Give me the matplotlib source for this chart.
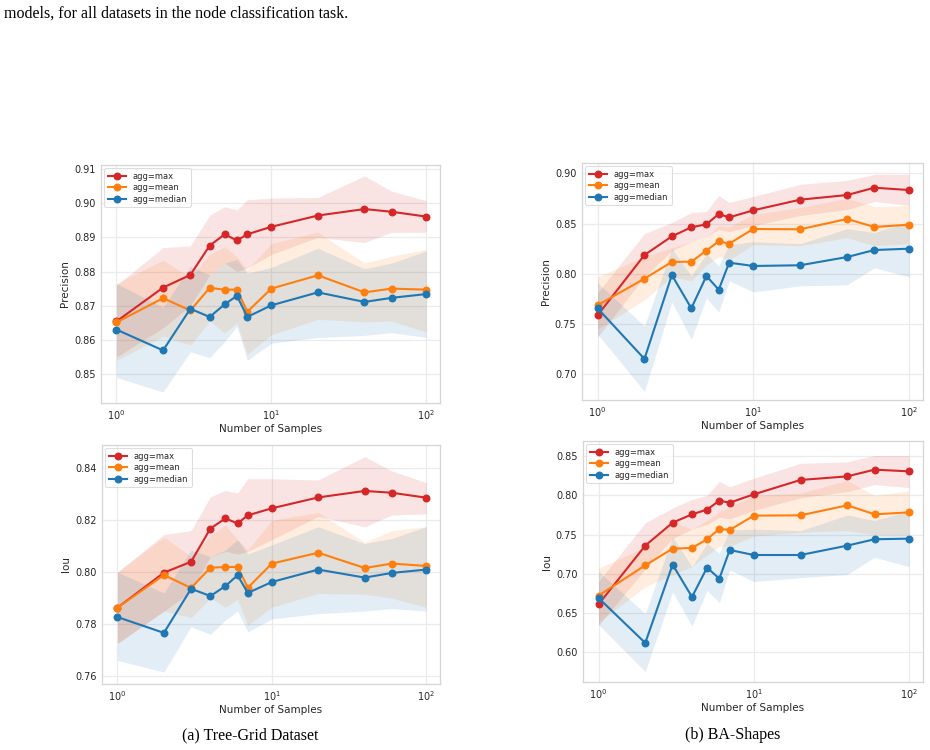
import numpy as np
import matplotlib
matplotlib.use("Agg")
import matplotlib.pyplot as plt

# number of sampled explanations (x axis, log scale)
n_samples = [1, 2, 3, 4, 5, 6, 7, 10, 20, 40, 60, 100]
agg_labels = ["agg=max", "agg=mean", "agg=median"]

# Tree-Grid, precision
tg_prec_max = [0.8654, 0.8753, 0.8790, 0.8876, 0.8909, 0.8891, 0.8909, 0.8931, 0.8964, 0.8983, 0.8975, 0.8961]
tg_prec_max_lo = [0.8550, 0.8635, 0.8700, 0.8790, 0.8825, 0.8800, 0.8810, 0.8850, 0.8900, 0.8885, 0.8915, 0.8915]
tg_prec_max_hi = [0.8760, 0.8870, 0.8875, 0.8965, 0.8990, 0.8980, 0.9010, 0.9015, 0.9017, 0.9080, 0.9035, 0.9008]
tg_prec_mean = [0.8651, 0.8722, 0.8686, 0.8752, 0.8747, 0.8747, 0.8682, 0.8750, 0.8789, 0.8739, 0.8750, 0.8747]
tg_prec_mean_lo = [0.8540, 0.8610, 0.8585, 0.8655, 0.8620, 0.8650, 0.8558, 0.8615, 0.8660, 0.8653, 0.8655, 0.8623]
tg_prec_mean_hi = [0.8765, 0.8833, 0.8783, 0.8850, 0.8873, 0.8843, 0.8805, 0.8882, 0.8915, 0.8825, 0.8845, 0.8865]
tg_prec_median = [0.8630, 0.8569, 0.8691, 0.8667, 0.8704, 0.8729, 0.8667, 0.8701, 0.8739, 0.8711, 0.8723, 0.8734]
tg_prec_median_lo = [0.8490, 0.8447, 0.8565, 0.8548, 0.8595, 0.8640, 0.8540, 0.8590, 0.8607, 0.8613, 0.8621, 0.8607]
tg_prec_median_hi = [0.8765, 0.8695, 0.8815, 0.8790, 0.8825, 0.8835, 0.8795, 0.8812, 0.8868, 0.8808, 0.8825, 0.8860]

# BA-Shapes, precision
ba_prec_max = [0.7587, 0.8187, 0.8373, 0.8463, 0.8493, 0.8595, 0.8562, 0.8632, 0.8738, 0.8784, 0.8857, 0.8834]
ba_prec_max_lo = [0.737, 0.797, 0.823, 0.832, 0.837, 0.844, 0.842, 0.848, 0.858, 0.864, 0.872, 0.868]
ba_prec_max_hi = [0.781, 0.840, 0.851, 0.861, 0.862, 0.878, 0.871, 0.877, 0.889, 0.893, 0.899, 0.899]
ba_prec_mean = [0.7687, 0.7952, 0.8118, 0.8121, 0.8231, 0.8324, 0.8300, 0.8446, 0.8443, 0.8546, 0.8466, 0.8489]
ba_prec_mean_lo = [0.745, 0.774, 0.797, 0.793, 0.809, 0.817, 0.814, 0.829, 0.828, 0.836, 0.828, 0.830]
ba_prec_mean_hi = [0.797, 0.817, 0.826, 0.832, 0.837, 0.848, 0.847, 0.859, 0.866, 0.875, 0.867, 0.868]
ba_prec_median = [0.7657, 0.7153, 0.7988, 0.7657, 0.7978, 0.7842, 0.8111, 0.8078, 0.8085, 0.8167, 0.8237, 0.8250]
ba_prec_median_lo = [0.740, 0.683, 0.772, 0.735, 0.776, 0.762, 0.793, 0.782, 0.788, 0.789, 0.806, 0.797]
ba_prec_median_hi = [0.791, 0.748, 0.825, 0.798, 0.820, 0.808, 0.829, 0.832, 0.830, 0.845, 0.841, 0.852]

# Tree-Grid, IoU
tg_iou_max = [0.7863, 0.7998, 0.8040, 0.8168, 0.8207, 0.8188, 0.8219, 0.8246, 0.8288, 0.8313, 0.8306, 0.8287]
tg_iou_max_lo = [0.7725, 0.7850, 0.7925, 0.8060, 0.8080, 0.8070, 0.8080, 0.8125, 0.8215, 0.8175, 0.8220, 0.8225]
tg_iou_max_hi = [0.8000, 0.8145, 0.8160, 0.8290, 0.8315, 0.8305, 0.8360, 0.8360, 0.8355, 0.8445, 0.8390, 0.8345]
tg_iou_mean = [0.7863, 0.7989, 0.7939, 0.8017, 0.8020, 0.8020, 0.7940, 0.8033, 0.8075, 0.8016, 0.8033, 0.8024]
tg_iou_mean_lo = [0.7725, 0.7850, 0.7825, 0.7900, 0.7865, 0.7895, 0.7795, 0.7865, 0.7918, 0.7915, 0.7900, 0.7865]
tg_iou_mean_hi = [0.8000, 0.8135, 0.8060, 0.8140, 0.8180, 0.8125, 0.8085, 0.8200, 0.8230, 0.8115, 0.8160, 0.8175]
tg_iou_median = [0.7827, 0.7766, 0.7936, 0.7908, 0.7946, 0.7988, 0.7920, 0.7962, 0.8010, 0.7979, 0.7997, 0.8010]
tg_iou_median_lo = [0.7660, 0.7615, 0.7790, 0.7760, 0.7815, 0.7850, 0.7770, 0.7820, 0.7840, 0.7850, 0.7860, 0.7850]
tg_iou_median_hi = [0.8000, 0.7920, 0.8085, 0.8060, 0.8085, 0.8125, 0.8070, 0.8105, 0.8175, 0.8110, 0.8130, 0.8175]

# BA-Shapes, IoU
ba_iou_max = [0.6609, 0.7359, 0.7652, 0.7759, 0.7819, 0.7934, 0.7908, 0.8014, 0.8198, 0.8244, 0.8330, 0.8308]
ba_iou_max_lo = [0.634, 0.706, 0.745, 0.757, 0.763, 0.772, 0.770, 0.781, 0.797, 0.805, 0.814, 0.810]
ba_iou_max_hi = [0.690, 0.765, 0.784, 0.795, 0.800, 0.818, 0.811, 0.822, 0.841, 0.843, 0.851, 0.851]
ba_iou_mean = [0.6720, 0.7107, 0.7320, 0.7329, 0.7440, 0.7572, 0.7559, 0.7742, 0.7746, 0.7874, 0.7759, 0.7784]
ba_iou_mean_lo = [0.638, 0.683, 0.699, 0.709, 0.724, 0.735, 0.735, 0.748, 0.753, 0.755, 0.750, 0.750]
ba_iou_mean_hi = [0.707, 0.734, 0.766, 0.757, 0.768, 0.779, 0.785, 0.800, 0.803, 0.819, 0.800, 0.806]
ba_iou_median = [0.6690, 0.6115, 0.7116, 0.6703, 0.7078, 0.6937, 0.7303, 0.7239, 0.7239, 0.7359, 0.7440, 0.7448]
ba_iou_median_lo = [0.635, 0.575, 0.677, 0.633, 0.679, 0.663, 0.705, 0.690, 0.695, 0.699, 0.721, 0.709]
ba_iou_median_hi = [0.703, 0.649, 0.747, 0.709, 0.739, 0.726, 0.756, 0.757, 0.755, 0.775, 0.768, 0.780]

colors = ["#d62728", "#ff7f0e", "#1f77b4"]

plt.rcParams["font.family"] = ["DejaVu Sans"]
plt.rcParams["axes.edgecolor"] = "#d5d5d5"
plt.rcParams["axes.linewidth"] = 0.9
plt.rcParams["grid.color"] = "#ebebeb"
plt.rcParams["text.color"] = "#262626"
plt.rcParams["axes.labelcolor"] = "#262626"
plt.rcParams["xtick.color"] = "#262626"
plt.rcParams["ytick.color"] = "#262626"


def draw_panel(ax, series, ylabel, ylim, yticks, yfmt):
    for (mid, lo, hi), lab, c in zip(series, agg_labels, colors):
        ax.fill_between(n_samples, lo, hi, color=c, alpha=0.13, linewidth=0)
        ax.plot(n_samples, mid, color=c, marker="o", markersize=4.7, linewidth=1.5, label=lab)
    ax.set_xscale("log")
    ax.set_xlim(10 ** -0.1, 10 ** 2.09)
    ax.set_ylim(*ylim)
    ax.set_yticks(yticks)
    ax.set_yticklabels([yfmt.format(t) for t in yticks])
    ax.grid(True, which="major", linewidth=0.9)
    ax.set_axisbelow(True)
    ax.tick_params(which="both", length=0, labelsize=7, pad=4)
    ax.set_xlabel("Number of Samples", fontsize=7.5, labelpad=1)
    ax.set_ylabel(ylabel, fontsize=7.5, labelpad=3)
    leg = ax.legend(loc="upper left", fontsize=6, frameon=True, borderpad=0.4,
                    labelspacing=0.3, handlelength=2.2, borderaxespad=0.4)
    leg.get_frame().set_edgecolor("#d5d5d5")
    leg.get_frame().set_linewidth(0.8)


W, H = 930, 750
fig = plt.figure(figsize=(W / 100, H / 100), dpi=100)


def add_ax(left, top, right, bottom):
    return fig.add_axes([left / W, 1 - bottom / H, (right - left) / W, (bottom - top) / H])


ax1 = add_ax(101, 165, 440, 403)
ax2 = add_ax(582, 163, 923, 400)
ax3 = add_ax(102, 445, 440, 684)
ax4 = add_ax(583, 441, 923, 682)

draw_panel(ax1, [(tg_prec_max, tg_prec_max_lo, tg_prec_max_hi),
                 (tg_prec_mean, tg_prec_mean_lo, tg_prec_mean_hi),
                 (tg_prec_median, tg_prec_median_lo, tg_prec_median_hi)],
           "Precision", (0.8415, 0.9112), [0.85, 0.86, 0.87, 0.88, 0.89, 0.90, 0.91], "{:.2f}")
draw_panel(ax2, [(ba_prec_max, ba_prec_max_lo, ba_prec_max_hi),
                 (ba_prec_mean, ba_prec_mean_lo, ba_prec_mean_hi),
                 (ba_prec_median, ba_prec_median_lo, ba_prec_median_hi)],
           "Precision", (0.6744, 0.9103), [0.70, 0.75, 0.80, 0.85, 0.90], "{:.2f}")
draw_panel(ax3, [(tg_iou_max, tg_iou_max_lo, tg_iou_max_hi),
                 (tg_iou_mean, tg_iou_mean_lo, tg_iou_mean_hi),
                 (tg_iou_median, tg_iou_median_lo, tg_iou_median_hi)],
           "Iou", (0.7569, 0.849), [0.76, 0.78, 0.80, 0.82, 0.84], "{:.2f}")
draw_panel(ax4, [(ba_iou_max, ba_iou_max_lo, ba_iou_max_hi),
                 (ba_iou_mean, ba_iou_mean_lo, ba_iou_mean_hi),
                 (ba_iou_median, ba_iou_median_lo, ba_iou_median_hi)],
           "Iou", (0.5616, 0.8696), [0.60, 0.65, 0.70, 0.75, 0.80, 0.85], "{:.2f}")

serif = ["Liberation Serif", "DejaVu Serif"]
fig.text(4 / W, 1 - 14 / H, "models, for all datasets in the node classification task.",
         family=serif, fontsize=11.5, color="black", ha="left", va="center")
fig.text(250 / W, 1 - 735 / H, "(a) Tree-Grid Dataset", family=serif, fontsize=11.5,
         color="black", ha="center", va="center")
fig.text(733 / W, 1 - 735 / H, "(b) BA-Shapes", family=serif, fontsize=11.5,
         color="black", ha="center", va="center")

fig.savefig("out.png", dpi=100, facecolor="white")
